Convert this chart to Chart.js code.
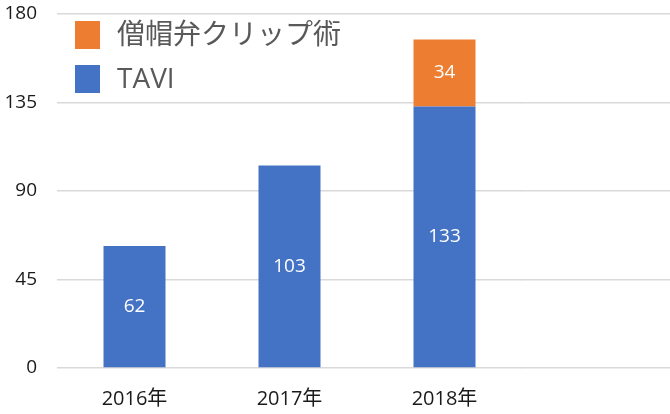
<!DOCTYPE html>
<html>
<head>
<meta charset="utf-8">
<script src="https://cdn.jsdelivr.net/npm/chart.js@4"></script>
<style>
  html, body { margin: 0; padding: 0; background: #fff; }
  canvas { display: block; }
</style>
</head>
<body>
<canvas id="chart" width="670" height="414"></canvas>
<script>
var categories = ['2016年', '2017年', '2018年'];
var taviValues = [62, 103, 133];
var clipValues = [null, null, 34];
var seriesNames = ['TAVI', '僧帽弁クリップ術'];
var yTicks = [0, 45, 90, 135, 180];

var FONT = '"Open Sans", "Noto Sans CJK JP", sans-serif';
var GRID = '#d9d9d9';

// gridlines run on past the plot to the right edge, like the original
var extendGrid = {
	id: 'extendGrid',
	beforeDatasetsDraw: function(chart) {
		var ctx = chart.ctx;
		var y = chart.scales.y;
		ctx.save();
		ctx.strokeStyle = GRID;
		ctx.lineWidth = 1.5;
		yTicks.forEach(function(v) {
			var py = Math.round(y.getPixelForValue(v) - 0.75) + 0.75;
			ctx.beginPath();
			ctx.moveTo(chart.chartArea.right - 1, py);
			ctx.lineTo(chart.width, py);
			ctx.stroke();
		});
		ctx.restore();
	}
};

var barLabels = {
	id: 'barLabels',
	afterDatasetsDraw: function(chart) {
		var ctx = chart.ctx;
		ctx.save();
		ctx.fillStyle = '#ffffff';
		ctx.font = '19px ' + FONT;
		ctx.textAlign = 'center';
		ctx.textBaseline = 'middle';
		chart.data.datasets.forEach(function(ds, i) {
			var meta = chart.getDatasetMeta(i);
			meta.data.forEach(function(bar, j) {
				var v = ds.data[j];
				if (v === null || v === undefined) return;
				ctx.fillText(String(v), bar.x, (bar.y + bar.base) / 2);
			});
		});
		ctx.restore();
	}
};

// legend sits inside the plot, top left, series listed top to bottom in reverse
var innerLegend = {
	id: 'innerLegend',
	afterDraw: function(chart) {
		var ctx = chart.ctx;
		var area = chart.chartArea;
		var sets = chart.data.datasets.slice().reverse();
		ctx.save();
		ctx.font = '28px ' + FONT;
		ctx.textBaseline = 'middle';
		sets.forEach(function(ds, i) {
			var top = area.top + 7 + i * 44;
			ctx.fillStyle = ds.backgroundColor;
			ctx.fillRect(area.left + 18, top, 25, 28);
			ctx.fillStyle = '#595959';
			ctx.fillText(ds.label, area.left + 60, top + 15);
		});
		ctx.restore();
	}
};

new Chart(document.getElementById('chart').getContext('2d'), {
	type: 'bar',
	data: {
		labels: categories,
		datasets: [
			{ label: seriesNames[0], data: taviValues, backgroundColor: '#4472c4' },
			{ label: seriesNames[1], data: clipValues, backgroundColor: '#ed7d31' }
		]
	},
	options: {
		responsive: false,
		animation: false,
		events: [],
		layout: { padding: { top: 14, right: 148, left: 0, bottom: 0 } },
		datasets: { bar: { categoryPercentage: 0.4, barPercentage: 1 } },
		plugins: { legend: { display: false }, tooltip: { enabled: false } },
		scales: {
			x: {
				stacked: true,
				grid: { display: false },
				border: { display: false },
				ticks: { color: '#1a1a1a', font: { family: FONT, size: 20 }, padding: 11 },
				afterFit: function(s) { s.height = 46; }
			},
			y: {
				stacked: true,
				min: 0,
				max: 180,
				afterBuildTicks: function(s) { s.ticks = yTicks.map(function(v) { return { value: v }; }); },
				grid: { color: GRID, lineWidth: 1.5, drawTicks: false },
				border: { display: false },
				ticks: { color: '#1a1a1a', font: { family: FONT, size: 19 }, padding: 20 },
				afterFit: function(s) { s.width = 57; s.paddingTop = 0; s.paddingBottom = 0; }
			}
		}
	},
	plugins: [extendGrid, barLabels, innerLegend]
});
</script>
</body>
</html>
